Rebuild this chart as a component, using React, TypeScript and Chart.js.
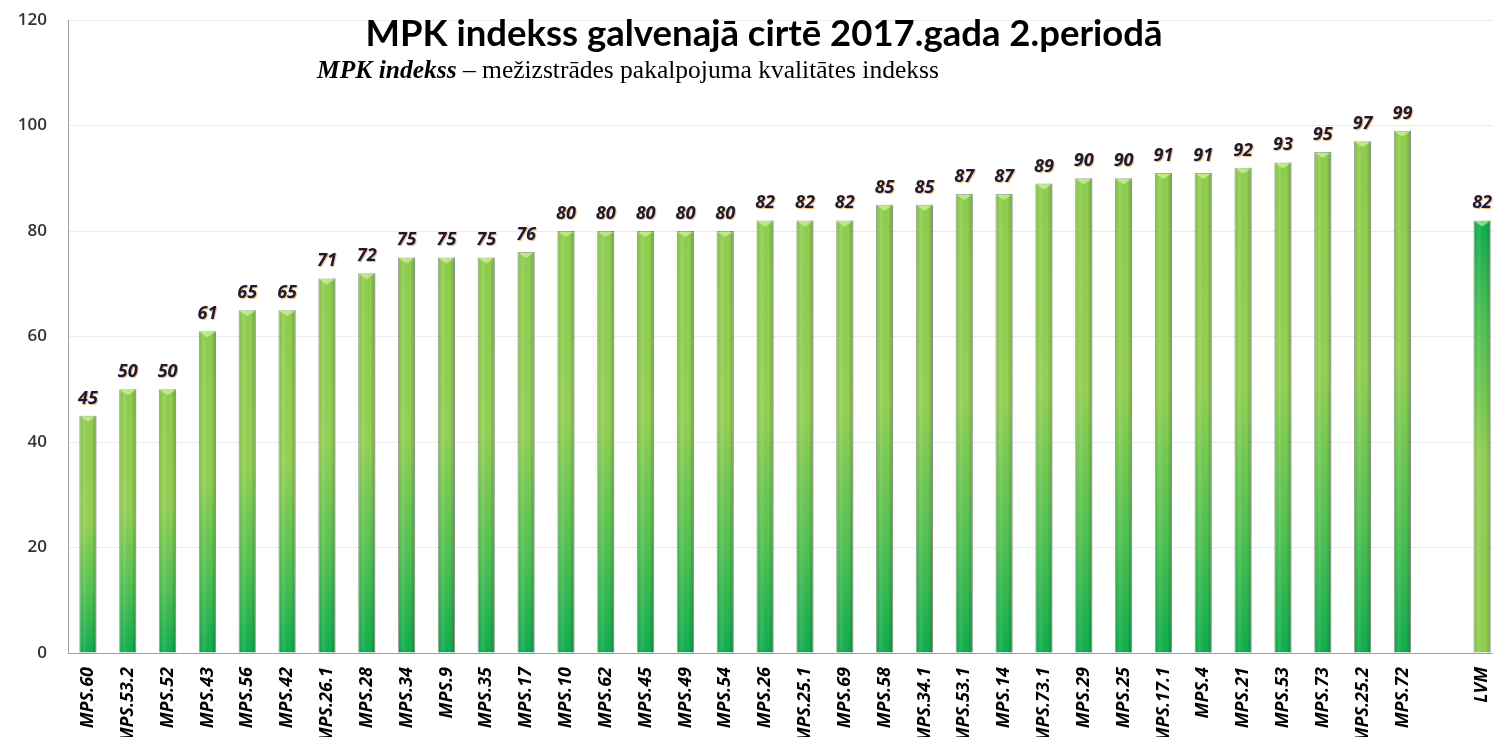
import React, { useEffect, useRef } from 'react';
import { Chart, registerables } from 'chart.js';

Chart.register(...registerables);

const categories = [
  'MPS.60', 'MPS.53.2', 'MPS.52', 'MPS.43', 'MPS.56', 'MPS.42', 'MPS.26.1', 'MPS.28', 'MPS.34',
  'MPS.9', 'MPS.35', 'MPS.17', 'MPS.10', 'MPS.62', 'MPS.45', 'MPS.49', 'MPS.54', 'MPS.26',
  'MPS.25.1', 'MPS.69', 'MPS.58', 'MPS.34.1', 'MPS.53.1', 'MPS.14', 'MPS.73.1', 'MPS.29',
  'MPS.25', 'MPS.17.1', 'MPS.4', 'MPS.21', 'MPS.53', 'MPS.73', 'MPS.25.2', 'MPS.72', '', 'LVM',
];

const values: (number | null)[] = [
  45, 50, 50, 61, 65, 65, 71, 72, 75, 75, 75, 76, 80, 80, 80, 80, 80, 82, 82, 82, 85, 85, 87, 87,
  89, 90, 90, 91, 91, 92, 93, 95, 97, 99, null, 82,
];

const yTicks = [0, 20, 40, 60, 80, 100, 120];

const titleText = 'MPK indekss galvenajā cirtē 2017.gada 2.periodā';
const subtitleBold = 'MPK indekss';
const subtitleRest = ' – mežizstrādes pakalpojuma kvalitātes indekss';

const GRAD_STOPS: [number, string][] = [
  [0, '#8fcf4e'],
  [0.45, '#94d254'],
  [0.75, '#52c352'],
  [1, '#0eae4e'],
];

const overlayPlugin = {
  id: 'overlay',
  afterDatasetsDraw(chart: any) {
    const ctx = chart.ctx;
    const meta = chart.getDatasetMeta(0);
    ctx.save();
    meta.data.forEach((bar: any, i: number) => {
      const v = values[i];
      if (v == null) return;
      const w = bar.width;
      const left = bar.x - w / 2;
      // horizontal shading for a cylindrical look
      const hg = ctx.createLinearGradient(left, 0, left + w, 0);
      hg.addColorStop(0, 'rgba(0,0,0,0.10)');
      hg.addColorStop(0.3, 'rgba(255,255,255,0.10)');
      hg.addColorStop(0.7, 'rgba(0,0,0,0)');
      hg.addColorStop(1, 'rgba(0,0,0,0.22)');
      ctx.fillStyle = hg;
      ctx.fillRect(left, bar.y, w, bar.base - bar.y);
      // top bevel highlight
      ctx.beginPath();
      ctx.moveTo(left + 1, bar.y + 1);
      ctx.lineTo(left + w - 1, bar.y + 1);
      ctx.lineTo(bar.x, bar.y + 6);
      ctx.closePath();
      ctx.fillStyle = 'rgba(230,255,180,0.55)';
      ctx.fill();
      // value label
      ctx.font = 'italic bold 18px "Open Sans", sans-serif';
      ctx.textAlign = 'center';
      ctx.textBaseline = 'alphabetic';
      ctx.shadowColor = 'rgba(235,150,60,0.7)';
      ctx.shadowOffsetX = 1;
      ctx.shadowOffsetY = 1;
      ctx.shadowBlur = 1;
      ctx.fillStyle = '#1b1b35';
      ctx.fillText(String(v), bar.x, bar.y - 12);
      ctx.shadowColor = 'transparent';
    });
    // title
    ctx.fillStyle = '#000';
    ctx.textAlign = 'center';
    ctx.font = 'bold 36.5px Lato, sans-serif';
    ctx.fillText(titleText, 764, 46);
    // subtitle
    ctx.textAlign = 'left';
    ctx.font = 'italic bold 25.5px "Liberation Serif", serif';
    ctx.fillText(subtitleBold, 317, 78);
    const wb = ctx.measureText(subtitleBold).width;
    ctx.font = '25.5px "Liberation Serif", serif';
    ctx.fillText(subtitleRest, 317 + wb, 78);
    ctx.restore();
  },
};

export default function App() {
  const ref = useRef<HTMLCanvasElement>(null);

  useEffect(() => {
    const canvas = ref.current!;
    const chart = new Chart(canvas, {
      type: 'bar',
      data: {
        labels: categories,
        datasets: [
          {
            data: values,
            backgroundColor: (c: any) => {
              const ch = c.chart;
              if (!ch.chartArea || c.type !== 'data' || c.raw == null) return '#92d050';
              const ys = ch.scales.y;
              const top = ys.getPixelForValue(c.raw);
              const base = ys.getPixelForValue(0);
              const isLvm = categories[c.dataIndex] === 'LVM';
              const g = isLvm
                ? ch.ctx.createLinearGradient(0, base, 0, top)
                : ch.ctx.createLinearGradient(0, top, 0, base);
              GRAD_STOPS.forEach(([p, col]) => g.addColorStop(p, col));
              return g;
            },
            borderColor: 'rgba(50,100,40,0.45)',
            borderWidth: 1,
            barPercentage: 0.86,
            categoryPercentage: 0.5,
          },
        ],
      },
      options: {
        responsive: false,
        animation: false,
        layout: { padding: { top: 20, right: 0, left: 0, bottom: 0 } },
        plugins: {
          legend: { display: false },
          title: { display: false },
          tooltip: { enabled: false },
        },
        scales: {
          x: {
            grid: { display: false },
            border: { color: '#a0a0a0', width: 1 },
            afterFit: (s: any) => {
              s.height = 84;
              s.paddingLeft = 0;
              s.paddingRight = 0;
            },
            ticks: {
              autoSkip: false,
              maxRotation: 90,
              minRotation: 90,
              padding: 6,
              color: '#000',
              font: { family: '"Open Sans", sans-serif', size: 18, style: 'italic', weight: 'bold' },
            },
          },
          y: {
            min: 0,
            max: 120,
            afterFit: (s: any) => {
              s.width = 68;
              s.paddingTop = 0;
              s.paddingBottom = 0;
            },
            afterBuildTicks: (s: any) => {
              s.ticks = yTicks.map((v) => ({ value: v }));
            },
            grid: { color: '#ececec', drawTicks: false },
            border: { color: '#a0a0a0', width: 1 },
            ticks: {
              padding: 21,
              color: '#333',
              font: { family: '"Open Sans", sans-serif', size: 17, weight: '600' },
            },
          },
        },
      },
      plugins: [overlayPlugin],
    });
    return () => chart.destroy();
  }, []);

  return (
    <div style={{ position: 'fixed', left: 0, top: 0, width: 1502, height: 737, background: '#fff' }}>
      <canvas ref={ref} width={1502} height={737} style={{ display: 'block' }} />
    </div>
  );
}
